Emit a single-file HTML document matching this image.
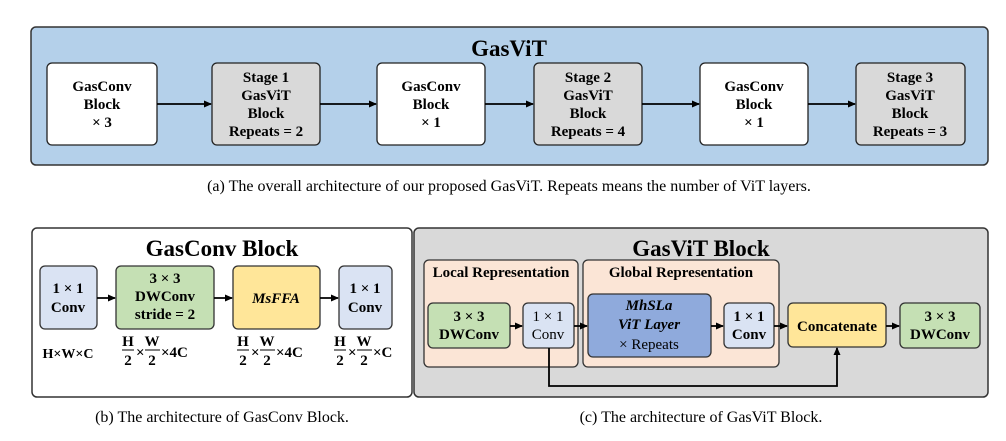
<!DOCTYPE html>
<html><head><meta charset="utf-8"><style>
body{margin:0;background:#fff;}
svg, svg text{font-family:"Liberation Serif","Times New Roman",Times,serif;}
.b{font-weight:bold;}
</style></head><body>
<svg width="1006" height="441" viewBox="0 0 1006 441" xmlns="http://www.w3.org/2000/svg" font-family="Liberation Serif, serif" style="display:block">
<defs><marker id="a" markerWidth="8" markerHeight="8" refX="7" refY="4" orient="auto" markerUnits="userSpaceOnUse"><path d="M0,0.5 L8,4 L0,7.5 z" fill="#000"/></marker></defs>
<!-- top -->
<rect x="31" y="27" width="957" height="138" rx="5" fill="#b4d0ea" stroke="#333" stroke-width="1.5"/>
<text x="509" y="56" text-anchor="middle" class="b" font-size="23">GasViT</text>
<g stroke="#222" stroke-width="1.3">
<rect x="47" y="63" width="110" height="82" rx="5" fill="#fff"/>
<rect x="212" y="63" width="108" height="82" rx="5" fill="#d9d9d9"/>
<rect x="377" y="63" width="108" height="82" rx="5" fill="#fff"/>
<rect x="534" y="63" width="108" height="82" rx="5" fill="#d9d9d9"/>
<rect x="700" y="63" width="108" height="82" rx="5" fill="#fff"/>
<rect x="856" y="63" width="109" height="82" rx="5" fill="#d9d9d9"/>
</g>
<g stroke="#000" stroke-width="1.8" marker-end="url(#a)">
<line x1="157" y1="104" x2="211" y2="104"/><line x1="320" y1="104" x2="376" y2="104"/>
<line x1="485" y1="104" x2="533" y2="104"/><line x1="642" y1="104" x2="699" y2="104"/>
<line x1="808" y1="104" x2="855" y2="104"/>
</g>
<g class="b" font-size="15" text-anchor="middle">
<text x="102" y="91">GasConv</text><text x="102" y="109">Block</text><text x="102" y="127">× 3</text>
<text x="266" y="82">Stage 1</text><text x="266" y="100">GasViT</text><text x="266" y="118">Block</text><text x="266" y="136">Repeats = 2</text>
<text x="431" y="91">GasConv</text><text x="431" y="109">Block</text><text x="431" y="127">× 1</text>
<text x="588" y="82">Stage 2</text><text x="588" y="100">GasViT</text><text x="588" y="118">Block</text><text x="588" y="136">Repeats = 4</text>
<text x="754" y="91">GasConv</text><text x="754" y="109">Block</text><text x="754" y="127">× 1</text>
<text x="910" y="82">Stage 3</text><text x="910" y="100">GasViT</text><text x="910" y="118">Block</text><text x="910" y="136">Repeats = 3</text>
</g>
<text x="509" y="191" text-anchor="middle" font-size="16">(a) The overall architecture of our proposed GasViT. Repeats means the number of ViT layers.</text>
<!-- bottom left -->
<rect x="32" y="228" width="380" height="169" rx="5" fill="#fff" stroke="#333" stroke-width="1.5"/>
<text x="222" y="256" text-anchor="middle" class="b" font-size="23">GasConv Block</text>
<g stroke="#333" stroke-width="1.3">
<rect x="40" y="266" width="57" height="63" rx="5" fill="#dae3f3"/>
<rect x="116" y="266" width="98" height="63" rx="5" fill="#c5e0b4"/>
<rect x="233" y="266" width="87" height="63" rx="5" fill="#ffe699"/>
<rect x="339" y="266" width="53" height="63" rx="5" fill="#dae3f3"/>
</g>
<g stroke="#000" stroke-width="1.8" marker-end="url(#a)">
<line x1="97" y1="298" x2="115" y2="298"/><line x1="214" y1="298" x2="232" y2="298"/><line x1="320" y1="298" x2="338" y2="298"/>
</g>
<g class="b" font-size="15" text-anchor="middle">
<text x="68" y="293">1 × 1</text><text x="68" y="312">Conv</text>
<text x="165" y="283">3 × 3</text><text x="165" y="301">DWConv</text><text x="165" y="319">stride  = 2</text>
<text x="276" y="303" font-style="italic">MsFFA</text>
<text x="365" y="293">1 × 1</text><text x="365" y="312">Conv</text>
<text x="68" y="358" font-size="14">H×W×C</text>
</g>
<g class="b" font-size="15">
<g transform="translate(122,0)"><text x="6" y="346" text-anchor="middle">H</text><line x1="0" y1="350" x2="12" y2="350" stroke="#000"/><text x="6" y="365" text-anchor="middle">2</text><text x="14" y="357">×</text><text x="30" y="346" text-anchor="middle">W</text><line x1="23" y1="350" x2="38" y2="350" stroke="#000"/><text x="30" y="365" text-anchor="middle">2</text><text x="39" y="357">×4C</text></g>
<g transform="translate(237,0)"><text x="6" y="346" text-anchor="middle">H</text><line x1="0" y1="350" x2="12" y2="350" stroke="#000"/><text x="6" y="365" text-anchor="middle">2</text><text x="14" y="357">×</text><text x="30" y="346" text-anchor="middle">W</text><line x1="23" y1="350" x2="38" y2="350" stroke="#000"/><text x="30" y="365" text-anchor="middle">2</text><text x="39" y="357">×4C</text></g>
<g transform="translate(334,0)"><text x="6" y="346" text-anchor="middle">H</text><line x1="0" y1="350" x2="12" y2="350" stroke="#000"/><text x="6" y="365" text-anchor="middle">2</text><text x="14" y="357">×</text><text x="30" y="346" text-anchor="middle">W</text><line x1="23" y1="350" x2="38" y2="350" stroke="#000"/><text x="30" y="365" text-anchor="middle">2</text><text x="39" y="357">×C</text></g>
</g>
<text x="222" y="422" text-anchor="middle" font-size="16">(b) The architecture of GasConv Block.</text>
<!-- bottom right -->
<rect x="414" y="228" width="574" height="169" rx="5" fill="#d9d9d9" stroke="#333" stroke-width="1.5"/>
<text x="701" y="256" text-anchor="middle" class="b" font-size="23">GasViT Block</text>
<g stroke="#333" stroke-width="1.3">
<rect x="424" y="260" width="154" height="107" rx="5" fill="#fbe5d6"/>
<rect x="583" y="260" width="196" height="107" rx="5" fill="#fbe5d6"/>
<rect x="428" y="303" width="82" height="45" rx="5" fill="#c5e0b4"/>
<rect x="523" y="303" width="51" height="45" rx="5" fill="#dae3f3"/>
<rect x="588" y="294" width="123" height="63" rx="5" fill="#8faadc"/>
<rect x="724" y="303" width="50" height="45" rx="5" fill="#dae3f3"/>
<rect x="788" y="303" width="98" height="44" rx="5" fill="#ffe699"/>
<rect x="900" y="303" width="80" height="45" rx="5" fill="#c5e0b4"/>
</g>
<g stroke="#000" stroke-width="1.8" fill="none" marker-end="url(#a)">
<line x1="510" y1="326" x2="522" y2="326"/><line x1="574" y1="326" x2="587" y2="326"/>
<line x1="711" y1="326" x2="723" y2="326"/><line x1="774" y1="326" x2="787" y2="326"/>
<line x1="886" y1="326" x2="899" y2="326"/>
<polyline points="549,348 549,386 837,386 837,348"/>
</g>
<g class="b" font-size="15" text-anchor="middle">
<text x="501" y="277">Local Representation</text>
<text x="681" y="277">Global Representation</text>
<text x="469" y="321">3 × 3</text><text x="469" y="339">DWConv</text>
<text x="548" y="321" font-weight="normal">1 × 1</text><text x="548" y="339" font-weight="normal">Conv</text>
<text x="649" y="310" font-style="italic">MhSLa</text><text x="649" y="329" font-style="italic">ViT Layer</text><text x="649" y="349" font-weight="normal">× Repeats</text>
<text x="749" y="321">1 × 1</text><text x="749" y="339">Conv</text>
<text x="837" y="331">Concatenate</text>
<text x="940" y="321">3 × 3</text><text x="940" y="339">DWConv</text>
</g>
<text x="701" y="422" text-anchor="middle" font-size="16">(c) The architecture of GasViT Block.</text>
</svg>
</body></html>
